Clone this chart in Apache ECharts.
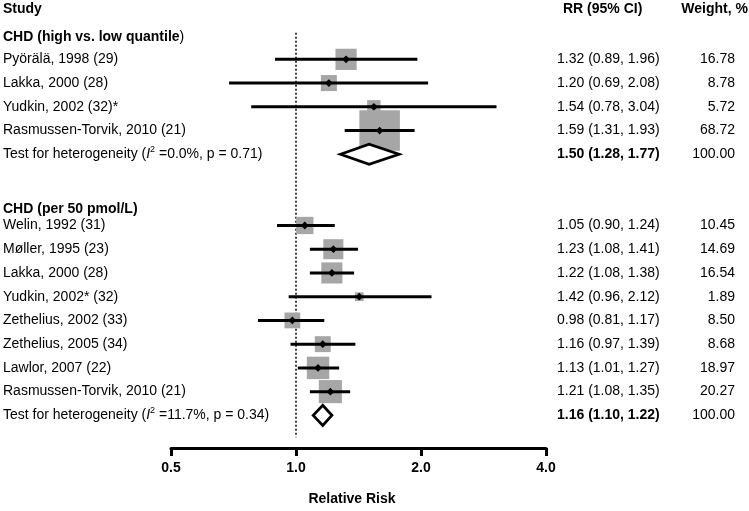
<!DOCTYPE html>
<html>
<head>
<meta charset="utf-8">
<script src="https://cdn.jsdelivr.net/npm/echarts@6/dist/echarts.min.js"></script>
<style>html,body{margin:0;padding:0;background:#fff;}#chart{width:749px;height:511px;}</style>
</head>
<body>
<div id="chart"></div>
<script>
// ---------- DATA ----------
const columnHeaders = ['Study', 'RR (95% CI)', 'Weight, %'];
const axisTitle = 'Relative Risk';
const xTickValues = [0.5, 1, 2, 4];
const xTickLabels = ['0.5', '1.0', '2.0', '4.0'];

const group1Title = 'CHD (high vs. low quantile';
const group1Studies = ['Pyörälä, 1998 (29)', 'Lakka, 2000 (28)', 'Yudkin, 2002 (32)*', 'Rasmussen-Torvik, 2010 (21)'];
const group1RR = [1.32, 1.20, 1.54, 1.59];
const group1Lower = [0.89, 0.69, 0.78, 1.31];
const group1Upper = [1.96, 2.08, 3.04, 1.93];
const group1Weight = [16.78, 8.78, 5.72, 68.72];
const group1Pooled = [1.50, 1.28, 1.77];
const group1Heterogeneity = ['0.0%', '0.71'];

const group2Title = 'CHD (per 50 pmol/L)';
const group2Studies = ['Welin, 1992 (31)', 'Møller, 1995 (23)', 'Lakka, 2000 (28)', 'Yudkin, 2002* (32)', 'Zethelius, 2002 (33)', 'Zethelius, 2005 (34)', 'Lawlor, 2007 (22)', 'Rasmussen-Torvik, 2010 (21)'];
const group2RR = [1.05, 1.23, 1.22, 1.42, 0.98, 1.16, 1.13, 1.21];
const group2Lower = [0.90, 1.08, 1.08, 0.96, 0.81, 0.97, 1.01, 1.08];
const group2Upper = [1.24, 1.41, 1.38, 2.12, 1.17, 1.39, 1.27, 1.35];
const group2Weight = [10.45, 14.69, 16.54, 1.89, 8.50, 8.68, 18.97, 20.27];
const group2Pooled = [1.16, 1.10, 1.22];
const group2Heterogeneity = ['11.7%', '0.34'];

// ---------- LAYOUT (rows) ----------
const FONT = '"Liberation Sans", Arial, Helvetica, sans-serif';
const HEADER_ROW = -1.13;
const g1Header = 0.08;
const g1Start = 1;
const g1Pool = g1Start + group1Studies.length;
const g2Header = g1Pool + 2.3;
const g2Start = g1Pool + 3;
const g2Pool = g2Start + group2Studies.length;

const fmt = v => v.toFixed(2);
const studyData = [];
const pooledData = [];
const textItems = [];

function addGroup(title, titleTail, names, rr, lo, hi, w, pooled, het, headerRow, startRow, poolRow) {
  textItems.push({row: headerRow, kind: 'group', title: title, tail: titleTail});
  names.forEach((n, i) => {
    const row = startRow + i;
    studyData.push([rr[i], lo[i], hi[i], w[i], row]);
    textItems.push({row: row, kind: 'study', name: n, rr: fmt(rr[i]) + ' (' + fmt(lo[i]) + ', ' + fmt(hi[i]) + ')', weight: fmt(w[i])});
  });
  pooledData.push([pooled[0], pooled[1], pooled[2], poolRow]);
  const total = w.reduce((a, b) => a + b, 0);
  textItems.push({row: poolRow, kind: 'pool', i2: het[0], p: het[1],
    rr: fmt(pooled[0]) + ' (' + fmt(pooled[1]) + ', ' + fmt(pooled[2]) + ')', weight: fmt(Math.round(total))});
}
addGroup(group1Title, ')', group1Studies, group1RR, group1Lower, group1Upper, group1Weight, group1Pooled, group1Heterogeneity, g1Header, g1Start, g1Pool);
addGroup(group2Title, '', group2Studies, group2RR, group2Lower, group2Upper, group2Weight, group2Pooled, group2Heterogeneity, g2Header, g2Start, g2Pool);
textItems.push({row: HEADER_ROW, kind: 'header'});

const NAME_X = 3, RR_X = 557, W_X = 735;

function txt(x, y, text, opts) {
  return {type: 'text', style: Object.assign({
    x: x, y: y, text: text, fill: '#000', font: '14px ' + FONT,
    verticalAlign: 'middle', align: 'left'
  }, opts || {})};
}

const chart = echarts.init(document.getElementById('chart'), null, {renderer: 'canvas'});
chart.setOption({
  animation: false,
  backgroundColor: '#fff',
  grid: {left: 171, right: 203, top: 0, bottom: 58, containLabel: false},
  xAxis: {
    type: 'log', logBase: 2, min: xTickValues[0], max: xTickValues[xTickValues.length - 1], interval: 1,
    position: 'bottom',
    splitLine: {show: false},
    axisLine: {show: true, onZero: false, lineStyle: {color: '#000', width: 3}},
    axisTick: {show: true, inside: false, length: 8, lineStyle: {color: '#000', width: 3}},
    axisLabel: {
      margin: 13, color: '#000', fontWeight: 'bold', fontSize: 14, fontFamily: FONT,
      formatter: v => { const i = xTickValues.findIndex(t => Math.abs(t - v) < 1e-6); return i >= 0 ? xTickLabels[i] : ''; }
    },
    name: axisTitle, nameLocation: 'middle', nameGap: 44,
    nameTextStyle: {color: '#000', fontWeight: 'bold', fontSize: 14, fontFamily: FONT, padding: [0, 13, 0, 0]}
  },
  yAxis: {type: 'value', inverse: true, min: -1.5, max: 17.375, show: false},
  series: [
    { // reference line at RR = 1
      type: 'custom', z: 1, silent: true,
      data: [[1, -0.12, 16.92]],
      encode: {x: 0, y: 1},
      renderItem: (params, api) => {
        const a = api.coord([api.value(0), api.value(1)]);
        const b = api.coord([api.value(0), api.value(2)]);
        return {type: 'line', shape: {x1: a[0], y1: a[1], x2: b[0], y2: b[1]},
          style: {stroke: '#000', lineWidth: 1.5, lineDash: [2, 2]}};
      }
    },
    { // individual studies
      type: 'custom', z: 2, silent: true,
      data: studyData,
      encode: {x: 0, y: 4},
      renderItem: (params, api) => {
        const row = api.value(4);
        const c = api.coord([api.value(0), row]);
        const l = api.coord([api.value(1), row]);
        const h = api.coord([api.value(2), row]);
        const s = 2.4 + 4.6 * Math.sqrt(api.value(3));
        const d = 3.9;
        return {type: 'group', children: [
          {type: 'rect', shape: {x: c[0] - s / 2, y: c[1] - s / 2, width: s, height: s}, style: {fill: '#a6a6a6'}},
          {type: 'line', shape: {x1: l[0], y1: c[1], x2: h[0], y2: c[1]}, style: {stroke: '#000', lineWidth: 3}},
          {type: 'polygon', shape: {points: [[c[0] - d, c[1]], [c[0], c[1] - d], [c[0] + d, c[1]], [c[0], c[1] + d]]}, style: {fill: '#000'}}
        ]};
      }
    },
    { // pooled estimates
      type: 'custom', z: 3, silent: true,
      data: pooledData,
      encode: {x: 0, y: 3},
      renderItem: (params, api) => {
        const row = api.value(3);
        const c = api.coord([api.value(0), row]);
        const l = api.coord([api.value(1), row]);
        const h = api.coord([api.value(2), row]);
        const hh = 10;
        return {type: 'polygon', shape: {points: [[l[0], c[1]], [c[0], c[1] - hh], [h[0], c[1]], [c[0], c[1] + hh]]},
          style: {fill: '#fff', stroke: '#000', lineWidth: 2.8, lineJoin: 'miter'}};
      }
    },
    { // text columns
      type: 'custom', z: 4, silent: true,
      data: textItems.map(t => [1, t.row]),
      encode: {x: 0, y: 1},
      renderItem: (params, api) => {
        const t = textItems[params.dataIndex];
        const y = api.coord([1, t.row])[1];
        const kids = [];
        if (t.kind === 'header') {
          kids.push(txt(NAME_X, y, columnHeaders[0], {font: 'bold 14px ' + FONT}));
          kids.push(txt(563, y, columnHeaders[1], {font: 'bold 14px ' + FONT}));
          kids.push(txt(748, y, columnHeaders[2], {font: 'bold 14px ' + FONT, align: 'right'}));
        } else if (t.kind === 'group') {
          kids.push({type: 'text', style: {x: NAME_X, y: y, verticalAlign: 'middle', align: 'left', fill: '#000',
            text: '{b|' + t.title + '}' + (t.tail ? '{n|' + t.tail + '}' : ''),
            rich: {b: {fontWeight: 'bold', fontSize: 14, fontFamily: FONT, fill: '#000'},
                   n: {fontSize: 14, fontFamily: FONT, fill: '#000'}}}});
        } else if (t.kind === 'study') {
          kids.push(txt(NAME_X, y, t.name));
          kids.push(txt(RR_X, y, t.rr));
          kids.push(txt(W_X, y, t.weight, {align: 'right'}));
        } else if (t.kind === 'pool') {
          kids.push({type: 'text', style: {x: NAME_X, y: y, verticalAlign: 'middle', align: 'left', fill: '#000',
            text: '{n|Test for heterogeneity (}{i|I}{s|2}{n| =' + t.i2 + ', p = ' + t.p + ')}',
            rich: {n: {fontSize: 14, fontFamily: FONT, lineHeight: 18, fill: '#000'},
                   i: {fontSize: 14, fontFamily: FONT, fontStyle: 'italic', lineHeight: 18, fill: '#000'},
                   s: {fontSize: 9, fontFamily: FONT, verticalAlign: 'top', lineHeight: 18, fill: '#000'}}}});
          kids.push(txt(RR_X, y, t.rr, {font: 'bold 14px ' + FONT}));
          kids.push(txt(W_X, y, t.weight, {align: 'right'}));
        }
        return {type: 'group', children: kids};
      }
    }
  ]
});
</script>
</body>
</html>
